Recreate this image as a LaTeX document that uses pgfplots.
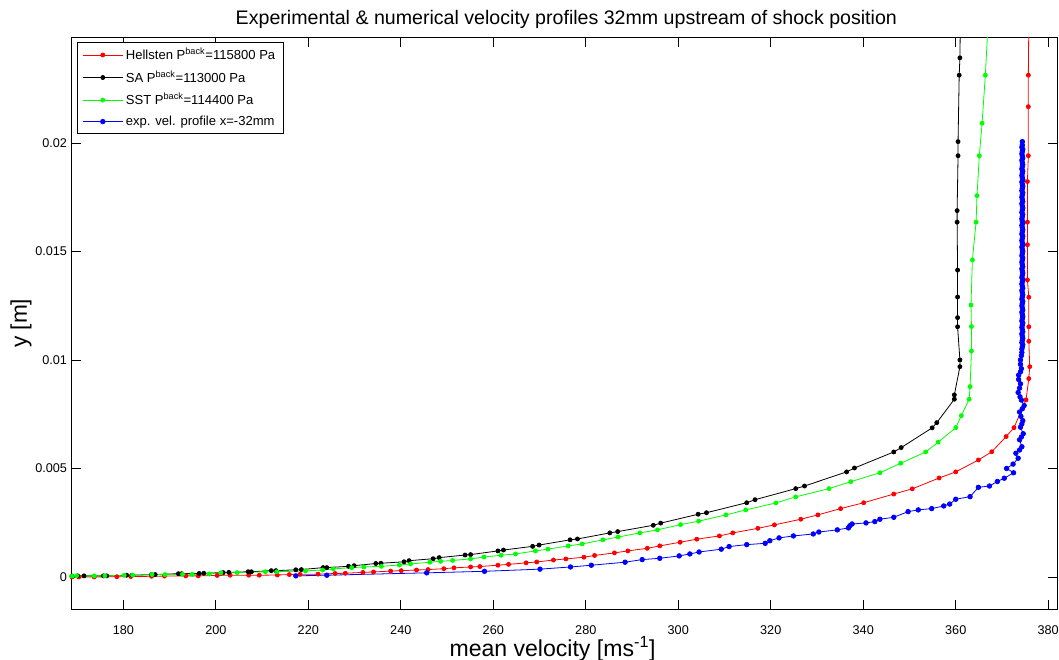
\documentclass[border=0pt]{standalone}
\usepackage{fontspec}
\setmainfont{Liberation Sans}
\usepackage{pgfplots}
\usepackage{pgfplotstable}
\pgfplotsset{compat=1.18}
\pgfplotstableread{
x y
165 0
168.9 0
170.4 0
173.7 0
178.6 0.00001
181.6 0.00002
186.1 0.00003
188.9 0.00004
193.5 0.00005
196.2 0.00005
200.3 0.00007
203.1 0.00008
207.1 0.00008
209.4 0.00008
213.3 0.00009
215.9 0.00011
218.2 0.00012
222.1 0.00013
225.8 0.00016
228.0 0.00017
231.8 0.00021
234.1 0.00023
237.8 0.00027
240.1 0.00029
243.4 0.00032
245.9 0.00034
249.3 0.00038
251.5 0.00042
255.1 0.00046
257.1 0.00048
261.0 0.00054
263.3 0.00058
267.1 0.00065
269.4 0.00069
273.0 0.00078
275.7 0.00083
279.6 0.00091
281.9 0.00099
286.2 0.00111
289.1 0.00120
293.3 0.00132
296.0 0.00143
300.4 0.00160
304.0 0.00174
308.9 0.00189
311.8 0.00203
317.2 0.00224
320.8 0.00240
326.5 0.00266
330.2 0.00286
335.1 0.00315
340.1 0.00342
346.6 0.00382
350.6 0.00406
356.4 0.00456
360.0 0.00484
364.9 0.00539
367.8 0.00577
370.9 0.00647
372.6 0.00688
375.2 0.00816
375.8 0.00914
376.0 0.00969
375.8 0.01086
375.8 0.01153
375.8 0.01289
375.5 0.01369
375.5 0.01531
375.5 0.01635
375.5 0.01822
375.7 0.01941
375.7 0.02167
375.7 0.02312
375.8 0.02550
}\hellsten
\pgfplotstableread{
x y
165 0.00003
168.9 0.00004
170.1 0.00005
171.5 0.00005
175.7 0.00005
176.4 0.00005
180.7 0.00008
181.9 0.00008
186.1 0.00011
186.9 0.00011
191.9 0.00015
192.6 0.00015
196.4 0.00016
197.4 0.00017
201.6 0.00020
202.8 0.00021
207.0 0.00024
207.7 0.00024
212.0 0.00029
213.0 0.00029
217.3 0.00033
218.5 0.00034
223.2 0.00043
224.0 0.00043
228.7 0.00049
229.9 0.00052
234.6 0.00062
235.7 0.00063
240.7 0.00070
241.8 0.00075
247.0 0.00084
248.3 0.00089
253.9 0.00101
255.1 0.00103
261.0 0.00120
262.2 0.00124
268.5 0.00141
269.9 0.00147
276.6 0.00171
278.2 0.00175
285.2 0.00203
286.9 0.00209
294.6 0.00238
296.2 0.00248
304.3 0.00289
306.1 0.00296
314.8 0.00342
316.6 0.00356
325.4 0.00407
327.3 0.00419
336.4 0.00484
338.1 0.00502
346.6 0.00576
348.2 0.00596
354.9 0.00687
355.9 0.00711
359.7 0.00819
359.7 0.00839
360.9 0.00969
360.9 0.01000
360.4 0.01153
360.4 0.01195
360.4 0.01290
360.4 0.01414
360.3 0.01635
360.3 0.01688
360.5 0.01941
360.5 0.02006
360.75 0.02312
360.9 0.02392
361.0 0.02550
}\sa
\pgfplotstableread{
x y
165 0.00003
168.9 0.00004
169.9 0.00005
173.7 0.00005
176.0 0.00005
180.2 0.00008
182.0 0.00008
186.2 0.00011
189.0 0.00011
192.8 0.00012
194.9 0.00012
198.6 0.00014
201.1 0.00019
204.6 0.00020
210.7 0.00024
213.2 0.00024
219.4 0.00028
223.1 0.00032
225.4 0.00037
229.4 0.00043
232.0 0.00046
235.8 0.00049
239.7 0.00055
242.1 0.00060
246.3 0.00068
248.6 0.00072
251.2 0.00076
255.1 0.00083
258.0 0.00092
261.7 0.00100
264.8 0.00106
269.1 0.00120
271.8 0.00128
276.2 0.00143
279.2 0.00152
283.7 0.00171
287.0 0.00184
291.7 0.00203
295.5 0.00217
300.5 0.00241
304.4 0.00257
310.3 0.00286
314.6 0.00309
321.1 0.00341
325.4 0.00369
332.6 0.00407
337.3 0.00439
343.6 0.00480
348.1 0.00524
353.5 0.00576
356.2 0.00621
360.0 0.00688
361.2 0.00743
362.9 0.00819
363.1 0.00877
363.4 0.01041
363.4 0.01154
363.3 0.01253
363.6 0.01461
364.4 0.01635
364.6 0.01757
365.1 0.01941
365.7 0.02091
366.4 0.02312
367.0 0.02550
}\sst
\pgfplotstableread{
x y
217.3 0.00005
224.0 0.00008
245.6 0.00019
258.1 0.00026
270.1 0.00036
276.7 0.00046
281.2 0.00054
288.5 0.00068
292.2 0.00080
296.0 0.00086
300.2 0.00097
302.5 0.00106
304.5 0.00115
309.3 0.00128
311.0 0.00140
314.8 0.00149
318.8 0.00155
319.8 0.00167
321.8 0.00180
324.9 0.00189
329.2 0.00198
330.4 0.00207
334.4 0.00217
336.8 0.00226
337.1 0.00236
337.6 0.00244
340.6 0.00249
342.5 0.00255
343.6 0.00266
346.6 0.00275
349.7 0.00301
351.9 0.00309
354.8 0.00315
357.4 0.00327
358.7 0.00336
360.0 0.00358
363.1 0.00370
364.9 0.00413
367.3 0.00419
369.0 0.00440
370.5 0.00455
372.5 0.00480
371.0 0.00500
372.4 0.00520
373.5 0.00547
373.0 0.00570
373.8 0.00585
374.3 0.00600
373.8 0.00632
374.2 0.00645
374.6 0.00660
374.0 0.00690
374.3 0.00705
374.5 0.00720
374.1 0.00740
373.8 0.00760
374.4 0.00775
374.8 0.00790
374.2 0.00815
373.9 0.00830
373.5 0.00850
373.8 0.00870
374.0 0.00890
373.6 0.00910
373.6 0.00930
374.0 0.00945
374.2 0.00960
374.0 0.00980
374.0 0.01000
374.2 0.01020
374.3 0.01035
374.3 0.01050
374.4 0.01060
374.5 0.01070
374.3 0.01080
374.4 0.01090
374.5 0.01100
374.4 0.01110
374.3 0.01120
374.5 0.01130
374.4 0.01140
374.3 0.01150
374.4 0.01160
374.5 0.01170
374.3 0.01180
374.4 0.01190
374.5 0.01200
374.4 0.01210
374.3 0.01220
374.5 0.01230
374.4 0.01240
374.3 0.01250
374.4 0.01260
374.5 0.01270
374.3 0.01280
374.4 0.01290
374.5 0.01300
374.4 0.01310
374.3 0.01320
374.5 0.01330
374.4 0.01340
374.3 0.01350
374.4 0.01360
374.5 0.01370
374.3 0.01380
374.4 0.01390
374.5 0.01400
374.4 0.01410
374.3 0.01420
374.5 0.01430
374.4 0.01440
374.3 0.01450
374.4 0.01460
374.5 0.01470
374.3 0.01480
374.4 0.01490
374.5 0.01500
374.4 0.01510
374.3 0.01520
374.5 0.01530
374.4 0.01540
374.3 0.01550
374.4 0.01560
374.5 0.01570
374.3 0.01580
374.4 0.01590
374.5 0.01600
374.4 0.01610
374.3 0.01620
374.5 0.01630
374.4 0.01640
374.3 0.01650
374.4 0.01660
374.5 0.01670
374.3 0.01680
374.4 0.01690
374.5 0.01700
374.4 0.01710
374.3 0.01720
374.5 0.01730
374.4 0.01740
374.3 0.01750
374.4 0.01760
374.5 0.01770
374.3 0.01780
374.4 0.01790
374.5 0.01800
374.4 0.01810
374.3 0.01820
374.5 0.01830
374.4 0.01840
374.3 0.01850
374.4 0.01860
374.5 0.01870
374.3 0.01880
374.4 0.01890
374.5 0.01900
374.4 0.01910
374.3 0.01920
374.5 0.01930
374.4 0.01940
374.3 0.01950
374.4 0.01960
374.5 0.01970
374.3 0.01980
374.4 0.01990
374.4 0.02006
}\expdata
\begin{document}
\begin{tikzpicture}
\useasboundingbox (-53.8pt,-38.25pt) rectangle (740.5pt,456.75pt);
\begin{axis}[
  at={(0,0)}, anchor=south west,
  scale only axis, width=739pt, height=428.5pt,
  xmin=168.84, xmax=381.9, ymin=-0.001475, ymax=0.02485,
  xtick={180,200,...,380},
  xticklabels={180,200,220,240,260,280,300,320,340,360,380},
  ytick={0,0.005,0.01,0.015,0.02},
  yticklabels={0,0.005,0.01,0.015,0.02},
  scaled ticks=false,
  tick align=inside, major tick length=7pt,
  axis line style={line width=0.6pt},
  every tick/.style={black, line width=0.6pt},
  ticklabel style={font=\fontsize{9.5}{11}\selectfont},
  xticklabel style={yshift=-9pt},
  title={Experimental \& numerical velocity profiles 32mm upstream of shock position},
  title style={at={(0.502,1.0187)}, anchor=center, font=\fontsize{14.7}{17}\selectfont},
  xlabel={mean velocity [ms\textsuperscript{-1}]},
  xlabel style={at={(0.488,-0.070)}, anchor=center, font=\fontsize{17.3}{20}\selectfont},
  ylabel={y [m]},
  ylabel style={at={(-0.0514,0.5)}, anchor=center, font=\fontsize{17}{20}\selectfont},
  legend style={at={(0,1)}, anchor=north west, xshift=3.75pt, yshift=-3.2pt,
    draw=black, line width=0.5pt, fill=white,
    font=\fontsize{9.8}{11}\selectfont,
    inner xsep=4pt, inner ysep=2.5pt, row sep=2.8pt,
    /tikz/every even column/.append style={column sep=2pt}},
  legend cell align=left,
  legend image code/.code={\draw[mark repeat=2,mark phase=2,#1] plot coordinates {(0pt,0pt) (15pt,0pt) (30pt,0pt)};},
  every axis plot/.append style={line width=0.6pt, mark=*, mark size=1.5pt, mark options={solid}},
]
\addplot[color=red, mark options={fill=red}] table[x=x,y=y] {\hellsten};
\addlegendentry{Hellsten P\textsuperscript{back}=115800 Pa}
\addplot[color=black, mark options={fill=black}] table[x=x,y=y] {\sa};
\addlegendentry{SA P\textsuperscript{back}=113000 Pa}
\addplot[color=green, mark options={fill=green}] table[x=x,y=y] {\sst};
\addlegendentry{SST P\textsuperscript{back}=114400 Pa}
\addplot[color=blue, mark options={fill=blue}, mark size=1.7pt] table[x=x,y=y] {\expdata};
\addlegendentry{exp. vel. profile x=-32mm}
\end{axis}
\end{tikzpicture}
\end{document}
